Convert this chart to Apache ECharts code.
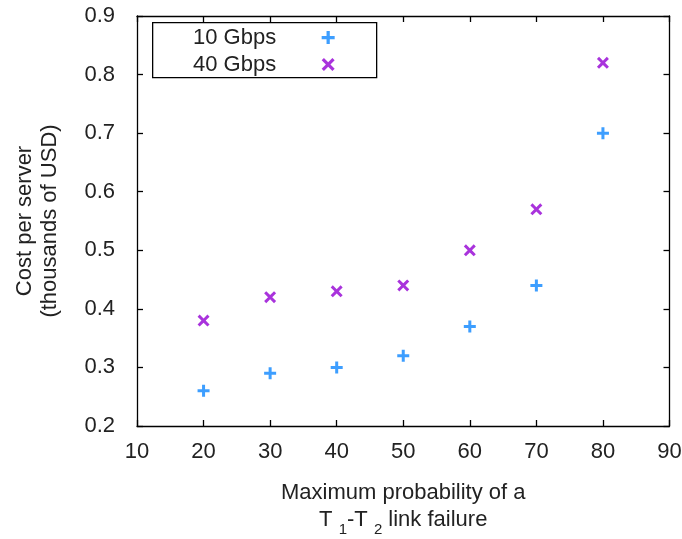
<!DOCTYPE html>
<html>
<head>
<meta charset="utf-8">
<script src="https://cdn.jsdelivr.net/npm/echarts@6/dist/echarts.min.js"></script>
<style>html,body{margin:0;padding:0;background:#fff}#c{width:682px;height:539px}</style>
</head>
<body>
<div id="c"></div>
<script>
const xValues = [20, 30, 40, 50, 60, 70, 80];
const cost10G = [0.26, 0.29, 0.30, 0.32, 0.37, 0.44, 0.70];
const cost40G = [0.38, 0.42, 0.43, 0.44, 0.50, 0.57, 0.82];
const seriesNames = ['10 Gbps', '40 Gbps'];
const xTicks = [10, 20, 30, 40, 50, 60, 70, 80, 90];
const yTicks = [0.2, 0.3, 0.4, 0.5, 0.6, 0.7, 0.8, 0.9];

const FONT = '"Liberation Sans", Arial, sans-serif';
const plusPath = 'path://M4.5,0 H7.5 V4.5 H12 V7.5 H7.5 V12 H4.5 V7.5 H0 V4.5 H4.5 Z';
const crossPath = 'path://M0,2.1 L2.1,0 L6,3.9 L9.9,0 L12,2.1 L8.1,6 L12,9.9 L9.9,12 L6,8.1 L2.1,12 L0,9.9 L3.9,6 Z';

const chart = echarts.init(document.getElementById('c'), null, {renderer: 'canvas'});
const axisCommon = {
  axisLine: {show: true, onZero: false, lineStyle: {color: '#000', width: 1.3}},
  axisTick: {show: true, inside: true, length: 6, lineStyle: {color: '#000', width: 1.3}},
  splitLine: {show: false}
};
chart.setOption({
  animation: false,
  backgroundColor: '#fff',
  grid: {left: 137, right: 12.5, top: 16, bottom: 113, containLabel: false, outerBoundsMode: 'none'},
  xAxis: [
    Object.assign({
      type: 'value', min: xTicks[0], max: xTicks[xTicks.length - 1], interval: 10,
      position: 'bottom',
      axisLabel: {color: '#222', fontSize: 22, fontFamily: FONT, margin: 15},
      name: 'Maximum probability of a\nT {sub|1}-T {sub|2} link failure',
      nameLocation: 'middle', nameGap: 53,
      nameTextStyle: {
        color: '#222', fontSize: 22, fontFamily: FONT, lineHeight: 27,
        rich: {sub: {fontSize: 15, fontFamily: FONT, color: '#222', verticalAlign: 'bottom', height: 7}}
      }
    }, axisCommon),
    Object.assign({
      type: 'value', min: xTicks[0], max: xTicks[xTicks.length - 1], interval: 10,
      position: 'top', axisLabel: {show: false}
    }, axisCommon)
  ],
  yAxis: [
    Object.assign({
      type: 'value', min: yTicks[0], max: yTicks[yTicks.length - 1], interval: 0.1,
      position: 'left',
      axisLabel: {color: '#222', fontSize: 22, fontFamily: FONT, margin: 22,
        formatter: v => v.toFixed(1)},
      name: 'Cost per server\n(thousands of USD)',
      nameLocation: 'middle', nameGap: 75, nameRotate: 90,
      nameTextStyle: {color: '#222', fontSize: 22, fontFamily: FONT, lineHeight: 25}
    }, axisCommon),
    Object.assign({
      type: 'value', min: yTicks[0], max: yTicks[yTicks.length - 1], interval: 0.1,
      position: 'right', axisLabel: {show: false}
    }, axisCommon)
  ],
  legend: {
    data: seriesNames,
    orient: 'vertical', align: 'right',
    left: 193, top: 26.5, padding: 0,
    itemWidth: 94, itemHeight: 13, itemGap: 5,
    textStyle: {color: '#222', fontSize: 22, fontFamily: FONT, lineHeight: 20},
    selectedMode: false
  },
  graphic: [{
    type: 'rect', left: 152, top: 22, z: 1,
    shape: {width: 224, height: 55},
    style: {fill: 'transparent', stroke: '#000', lineWidth: 1.3}
  }],
  series: [
    {
      name: seriesNames[0], type: 'scatter',
      data: xValues.map((x, i) => [x, cost10G[i]]),
      symbol: plusPath, symbolSize: 12,
      itemStyle: {color: '#0d86ff'}
    },
    {
      name: seriesNames[1], type: 'scatter',
      data: xValues.map((x, i) => [x, cost40G[i]]),
      symbol: crossPath, symbolSize: 12,
      itemStyle: {color: '#9400d3'}
    }
  ]
});
</script>
</body>
</html>
